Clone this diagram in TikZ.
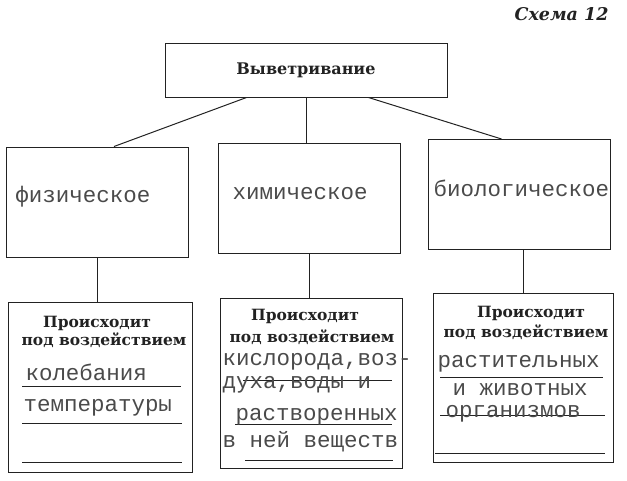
\documentclass[tikz,border=0pt]{standalone}
\usepackage{xcolor}
\usepackage{fontspec}
\setmainfont{DejaVu Serif}
\newfontfamily\handfont{Liberation Mono}
\definecolor{ink}{HTML}{222222}
\definecolor{pencil}{HTML}{4a4a4a}
\usetikzlibrary{positioning}

\begin{document}
\begin{tikzpicture}[x=1pt, y=-1pt, line width=1pt, color=ink,
    box/.style={draw=ink, minimum width=182pt, minimum height=110pt, inner sep=0pt},
    hand/.style={font=\handfont\fontsize{22.5}{24}\selectfont, text=pencil, anchor=base west, inner sep=0pt},
    head/.style={font=\bfseries\fontsize{15.5}{17}\selectfont, text=ink, anchor=base, inner sep=0pt}]
    \useasboundingbox (0,0) rectangle (627,480);

    % Titolo
    \node[font=\bfseries\itshape\fontsize{17.5}{19}\selectfont, anchor=base east, inner sep=0pt] (title) at (609,20) {Схема 12};

    % Radice
    \node[box, minimum width=282pt, minimum height=54pt, font=\bfseries\fontsize{16}{18}\selectfont] (root) at (306,70) {Выветривание};

    % Tipi
    \node[box] (phys) at (97.5,202) {};
    \node[box] (chem) at (309,198.5) {};
    \node[box] (bio) at (519,194.5) {};
    \node[hand] (physlbl) at (15,202) {физическое};
    \node[hand] (chemlbl) at (232,199) {химическое};
    \node[hand] (biolbl) at (433,196) {биологическое};

    \draw ([xshift=82pt]root.south west) -- ([xshift=108pt]phys.north west);
    \draw (root.south) -- (root.south |- chem.north);
    \draw ([xshift=-79pt]root.south east) -- ([xshift=74pt]bio.north west);

    % Cause
    \node[box, minimum width=184pt, minimum height=170pt] (physlow) at (100,387) {};
    \node[box, minimum width=182pt, minimum height=170pt] (chemlow) at (311,383) {};
    \node[box, minimum width=180pt, minimum height=169pt] (biolow) at (523,377.5) {};

    \draw (phys.south) -- (phys.south |- physlow.north);
    \draw (chem.south) -- (chem.south |- chemlow.north);
    \draw (biolow.north) -- (biolow.north |- bio.south);

    \node[head] (physhd) at (97,327) {Происходит};
    \node[head] (physsub) at (104,345) {под воздействием};
    \node[head] (chemhd) at (305,320) {Происходит};
    \node[head] (chemsub) at (312,342) {под воздействием};
    \node[head] (biohd) at (531,317) {Происходит};
    \node[head] (biosub) at (526,337) {под воздействием};

    % Righe
    \draw (22,386) -- (181,386);
    \draw (22,423) -- (182,423);
    \draw (22,462) -- (182,462);
    \draw (243,380) -- (392,380);
    \draw (235,424) -- (392,424);
    \draw (245,460) -- (393,460);
    \draw (440,377) -- (603,377);
    \draw (440,415) -- (605,415);
    \draw (435,453) -- (605,453);

    \node[hand] (physa) at (25,380) {колебания};
    \node[hand] (physb) at (23,411) {температуры};
    \node[hand] (chema) at (222,365) {кислорода,воз-};
    \node[hand] (chemb) at (222,388) {духа,воды и};
    \node[hand] (chemc) at (235,420) {растворенных};
    \node[hand] (chemd) at (222,447) {в ней веществ};
    \node[hand] (bioa) at (437,367) {растительных};
    \node[hand] (biob) at (452,395) {и животных};
    \node[hand] (bioc) at (445,417) {организмов};
\end{tikzpicture}
\end{document}
